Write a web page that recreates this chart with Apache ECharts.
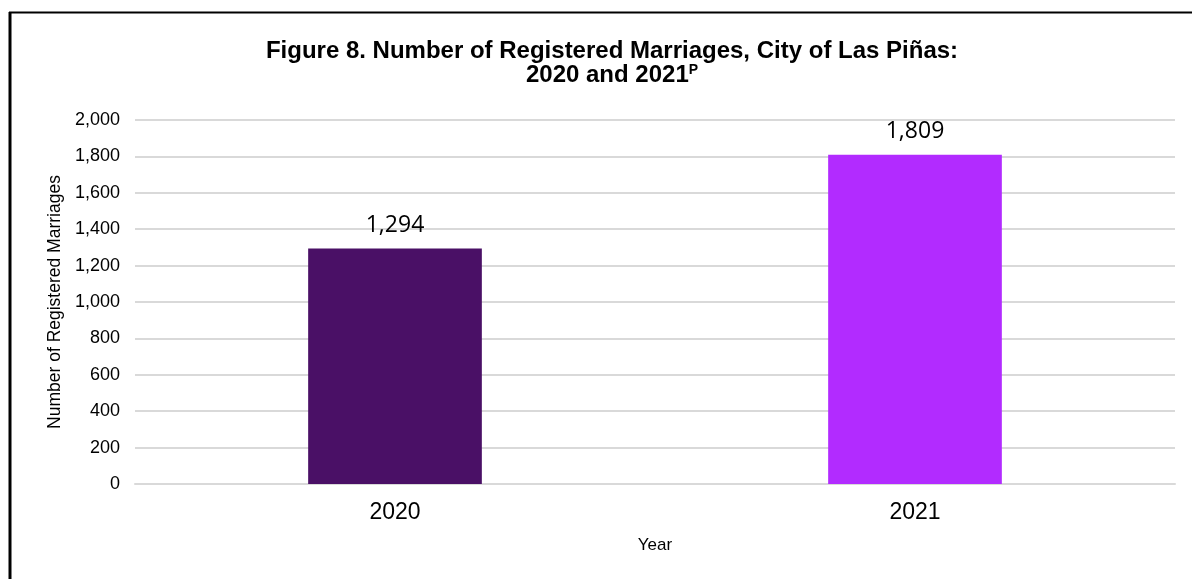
<!DOCTYPE html>
<html>
<head>
<meta charset="utf-8">
<script src="https://cdn.jsdelivr.net/npm/echarts@6/dist/echarts.min.js"></script>
<style>
  html, body { margin: 0; padding: 0; background: #fff; }
  #chart { width: 1192px; height: 579px; }
</style>
</head>
<body>
<div id="chart"></div>
<script>
// 数据
var years = ['2020', '2021'];
var marriages = [1294, 1809];
var barColors = ['#4a1066', '#b22bff'];

var myChart = echarts.init(document.getElementById('chart'));

var option = {
    backgroundColor: '#fff',
    animation: false,
    title: {
        text: 'Figure 8. Number of Registered Marriages, City of Las Piñas:\n2020 and 2021{sup|P}',
        left: 607,
        top: 34,
        textAlign: 'center',
        textStyle: {
            fontFamily: '"Liberation Sans Narrow", "Liberation Sans", Arial',
            fontWeight: 'bold',
            fontSize: 24,
            lineHeight: 24,
            color: '#000',
            rich: {
                sup: {
                    fontFamily: '"Liberation Sans Narrow", "Liberation Sans", Arial',
                    fontWeight: 'bold',
                    fontSize: 14,
                    verticalAlign: 'top',
                    padding: [0, 0, 8, 0],
                    color: '#000'
                }
            }
        }
    },
    // 外框线（左、上）
    graphic: [
        { type: 'line', shape: { x1: 10, y1: 12, x2: 10, y2: 579 }, style: { stroke: '#000', lineWidth: 3 } },
        { type: 'line', shape: { x1: 9, y1: 12.5, x2: 1192, y2: 12.5 }, style: { stroke: '#000', lineWidth: 2 } }
    ],
    grid: {
        left: 135,
        right: 17,
        top: 120,
        bottom: 95,
        containLabel: false
    },
    xAxis: {
        type: 'category',
        data: years,
        name: 'Year',
        nameLocation: 'middle',
        nameGap: 53,
        nameTextStyle: {
            color: '#000',
            fontFamily: '"Liberation Sans", Arial',
            fontSize: 17
        },
        axisLine: { lineStyle: { color: '#d9d9d9', width: 2 } },
        axisTick: { show: false },
        axisLabel: {
            color: '#000',
            fontFamily: '"Liberation Sans", Arial',
            fontSize: 23,
            margin: 17
        }
    },
    yAxis: {
        type: 'value',
        min: 0,
        max: 2000,
        interval: 200,
        name: 'Number of Registered Marriages',
        nameLocation: 'middle',
        nameGap: 64,
        nameTextStyle: {
            color: '#000',
            fontFamily: '"Liberation Sans", Arial',
            fontSize: 17.5
        },
        axisLine: { show: false },
        axisTick: { show: false },
        axisLabel: {
            color: '#000',
            fontFamily: '"Liberation Sans", Arial',
            fontSize: 18,
            margin: 15,
            formatter: function (v) {
                return v.toLocaleString('en-US');
            }
        },
        splitLine: { lineStyle: { color: '#d9d9d9', width: 2 } }
    },
    series: [
        {
            type: 'bar',
            barWidth: '33.4%',
            data: marriages.map(function (v, i) {
                return { value: v, itemStyle: { color: barColors[i] } };
            }),
            label: {
                show: true,
                position: 'top',
                distance: 12,
                color: '#000',
                fontFamily: '"Open Sans", "Liberation Sans", Arial',
                fontSize: 23,
                formatter: function (p) {
                    return p.value.toLocaleString('en-US');
                }
            }
        }
    ]
};

myChart.setOption(option);
</script>
</body>
</html>
